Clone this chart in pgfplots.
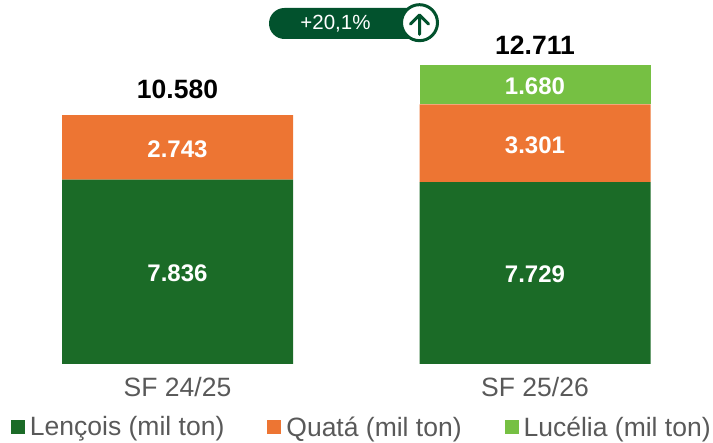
\documentclass[border=0pt]{standalone}
\usepackage{pgfplots}
\pgfplotsset{compat=1.18}
\usepackage{fontspec}
\setmainfont{Liberation Sans}
\definecolor{cdark}{HTML}{1B6B27}
\definecolor{corange}{HTML}{ED7533}
\definecolor{clight}{HTML}{76C043}
\definecolor{cgray}{HTML}{595959}
\definecolor{cpill}{HTML}{02522D}
\begin{document}
\begin{tikzpicture}[x=1pt,y=1pt]
\path[use as bounding box] (0,0) rectangle (713,443);
\begin{axis}[
  at={(0pt,79pt)}, anchor=south west,
  width=713pt, height=364pt, scale only axis,
  xmin=0, xmax=713, ymin=0, ymax=15470,
  clip=false,
  axis line style={draw=none},
  ytick=\empty,
  xtick={177.5,535},
  xticklabels={SF 24/25,SF 25/26},
  major tick length=0pt,
  x tick label style={font=\fontsize{26.5}{26.5}\selectfont, text=cgray, yshift=-10pt},
  ybar stacked,
  bar shift=0pt,
  bar width=231pt,
  legend columns=3,
  legend style={
    draw=none, fill=none, at={(axis description cs:0.0,-0.139)}, anchor=north west,
    font=\fontsize{26.5}{26.5}\selectfont, text=cgray, inner sep=0pt, outer sep=0pt,
    /tikz/every odd column/.append style={column sep=3pt},
    /tikz/every even column/.append style={column sep=41pt},
    xshift=11pt,
  },
  legend cell align=left,
  legend image code/.code={\fill[#1] (0pt,-7pt) rectangle (14pt,7pt);},
]
\addplot[fill=cdark,draw=none] coordinates {(177.5,7836) (535,7729)};
\addplot[fill=corange,draw=none] coordinates {(177.5,2743) (535,3301)};
\addplot[fill=clight,draw=none] coordinates {(177.5,0) (535,1680)};
\legend{Lençois (mil ton),Quatá (mil ton),Lucélia (mil ton)}
\coordinate (a1) at (axis cs:177.5,3918);
\coordinate (a2) at (axis cs:177.5,9207);
\coordinate (b1) at (axis cs:535,3865);
\coordinate (b2) at (axis cs:535,9380);
\coordinate (b3) at (axis cs:535,11870);
\tikzset{tl/.style={font=\fontsize{26.5}{26.5}\selectfont\bfseries,text=black,anchor=center,inner sep=0pt}}
\node[tl] at (axis cs:177.5,11680) {10.580};
\node[tl] at (axis cs:535,13557) {12.711};
\end{axis}
\tikzset{vl/.style={font=\fontsize{24}{24}\selectfont\bfseries,text=white,anchor=center,inner sep=0pt,yshift=-1.5pt}}
\node[vl] at (a1) {7.836};
\node[vl] at (a2) {2.743};
\node[vl] at (b1) {7.729};
\node[vl] at (b2) {3.301};
\node[vl] at (b3) {1.680};
% badge
\fill[cpill,rounded corners=15.5pt] (269,404) rectangle (430,435);
\node[text=white,font=\fontsize{20.5}{20.5}\selectfont,inner sep=0pt] at (335.5,419.5) {+20,1\%};
\filldraw[fill=white,draw=cpill,line width=3pt] (419.5,420.3) circle (18pt);
\draw[cpill,line width=3pt,line cap=round,line join=round] (419.5,408.5)--(419.5,427) (410.5,419)--(419.5,428)--(428.5,419);
\end{tikzpicture}
\end{document}
